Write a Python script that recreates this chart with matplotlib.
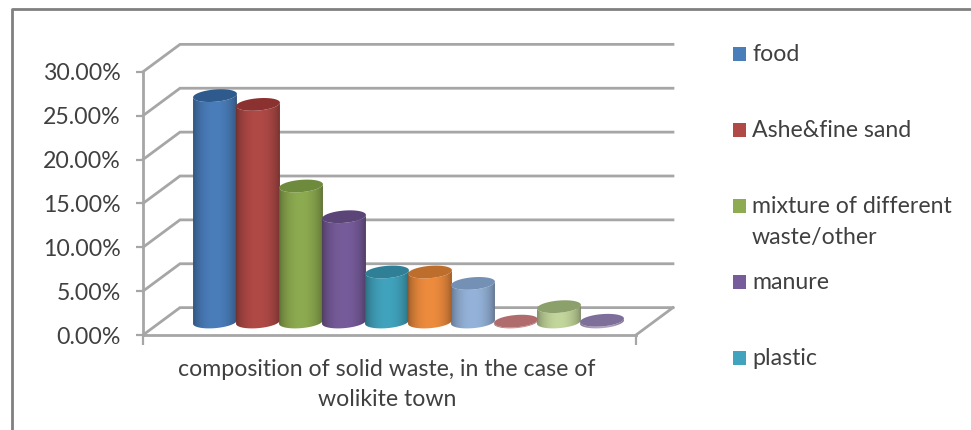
import numpy as np
import matplotlib.pyplot as plt
import matplotlib.colors as mcolors
from matplotlib.patches import PathPatch, Rectangle
from matplotlib.path import Path

# Solid waste composition, percent
values = [25.8, 24.8, 15.5, 12.0, 5.7, 5.7, 4.4, 0.1, 1.75, 0.2]
body_colors = ['#4A7EBB', '#B04A47', '#8DAB50', '#775C9B', '#41A3BD',
               '#EE8C3E', '#95B3DA', '#C98F8E', '#C3D69B', '#B3A2C7']
cap_colors = ['#2F5A8E', '#8B3230', '#6E8A3C', '#5B4478', '#2F7F96',
              '#BD6E2D', '#7590B5', '#B06C6C', '#8CA06C', '#7E6E9A']
legend_names = ['food', 'Ashe&fine sand', 'mixture of different\nwaste/other',
                'manure', 'plastic']
y_ticks = [0, 5, 10, 15, 20, 25, 30]
category = 'composition of solid waste, in the case of\nwolikite town'

plt.rcParams['font.family'] = ['Lato', 'DejaVu Sans']
text_color = '#404040'
grid_color = '#a6a6a6'
font_size = 16.7

W, H = 971, 430
fig = plt.figure(figsize=(W / 100, H / 100), dpi=100)
ax = fig.add_axes([0, 0, 1, 1])

# x unit = one bar slot (43 px), y unit = one percent (8.775 px)
ax.set_xlim(-215 / 43, (W - 215) / 43)
ax.set_ylim(-(H - 335) / 8.775, 335 / 8.775)

x_front, x_end = -1.674, 9.79
depth_x, depth_y = 0.86, 3.12

# walls: diagonal going back from the axis, then the line along the back
for t in y_ticks:
    ax.plot([x_front, x_front + depth_x, x_end + depth_x],
            [t, t + depth_y, t + depth_y],
            color=grid_color, lw=2, zorder=1, solid_joinstyle='miter')
ax.plot([x_end, x_end + depth_x], [0, depth_y], color=grid_color, lw=2, zorder=1)

# axes drawn through spines and ticks
for name in ['top', 'right']:
    ax.spines[name].set_visible(False)
ax.spines['left'].set_position(('data', x_front))
ax.spines['left'].set_bounds(0, 30)
ax.spines['bottom'].set_position(('data', 0))
ax.spines['bottom'].set_bounds(x_front, x_end)
for name in ['left', 'bottom']:
    ax.spines[name].set_color(grid_color)
    ax.spines[name].set_linewidth(2)
ax.set_yticks(y_ticks)
ax.set_yticklabels(['%.2f%%' % t for t in y_ticks])
ax.tick_params(axis='y', direction='out', length=5, width=1.6, color=grid_color,
               pad=11, labelsize=font_size, labelcolor=text_color)
ax.set_xticks([x_front, x_end], minor=True)
ax.tick_params(axis='x', which='minor', direction='out', length=7, width=1.6,
               color=grid_color)
ax.set_xticks([4.0])
ax.set_xticklabels([category], linespacing=1.55)
ax.tick_params(axis='x', which='major', length=0, pad=17, labelsize=font_size,
               labelcolor=text_color)

# cylinders
base = 1.48
half_w = 0.51
cap_h = 0.7
skew = 0.2
t = np.linspace(0, 2 * np.pi, 81)
shade = np.linspace(0, 1, 96)
shade = 0.62 + 0.38 * np.clip(np.sin(np.pi * shade) ** 0.55, 0, 1)

for i, v in enumerate(values):
    top = base + v
    ex = i + half_w * np.cos(t)
    ey = cap_h * np.sin(t) + skew * np.cos(t)

    # body outline: lower half of the base ellipse, then the upper ellipse back
    low = t >= np.pi
    bx = np.concatenate([ex[low], ex[low][::-1]])
    by = np.concatenate([base + ey[low], top + ey[low][::-1]])
    verts = np.column_stack([bx, by])
    body = PathPatch(Path(np.vstack([verts, verts[0]]), closed=True),
                     transform=ax.transData, fc='none', ec='none')
    ax.add_patch(body)
    rgb = np.array(mcolors.to_rgb(body_colors[i]))
    img = (shade[:, None] * rgb)[None, :, :]
    im = ax.imshow(img, extent=[i - half_w, i + half_w, base - 1.2, top + 1.2],
                   aspect='auto', zorder=3 + i * 0.01, interpolation='bilinear')
    im.set_clip_path(body)

    cap = PathPatch(Path(np.column_stack([ex, top + ey])), fc=cap_colors[i],
                    ec='none', zorder=3.005 + i * 0.01)
    ax.add_patch(cap)

ax.set_xlim(-215 / 43, (W - 215) / 43)
ax.set_ylim(-(H - 335) / 8.775, 335 / 8.775)

# legend keys and names, only the first entries fit in the frame
legend_y = [54, 130, 206, 282, 358]
for name, color, y in zip(legend_names, body_colors, legend_y):
    ax.add_patch(Rectangle((733 / W, 1 - (y + 7) / H), 13 / W, 14 / H,
                           transform=ax.transAxes, fc=color, ec='none', zorder=5))
    for j, line in enumerate(name.split('\n')):
        ax.text(752 / W, 1 - (y + 7 + 31 * j) / H, line, transform=ax.transAxes,
                ha='left', va='baseline', fontsize=font_size, color=text_color)

# outer chart frame, running off the right and bottom edges
ax.plot([12 / W, 12 / W, 1], [0, 1 - 9 / H, 1 - 9 / H], transform=ax.transAxes,
        color='#808080', lw=2, zorder=6, clip_on=False)

fig.savefig('out.png', dpi=100)
plt.close(fig)
